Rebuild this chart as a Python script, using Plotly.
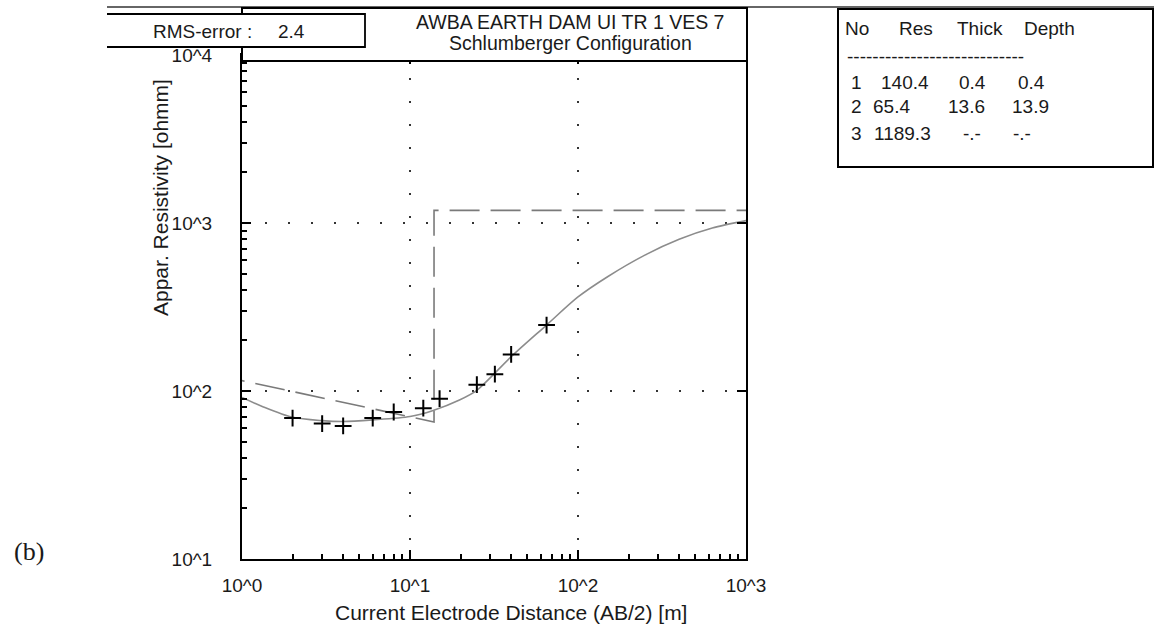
import plotly.graph_objects as go

# ---------------- data ----------------
ab2_obs = [2, 3, 4, 6, 8, 12, 15, 25, 32, 40, 65]
rho_obs = [69, 64, 62, 69, 75, 79, 90, 109, 126, 165, 247]

ab2_calc = [1, 1.33, 2, 3, 4, 6, 10, 13.6, 19.7, 25, 40, 65, 100, 150, 250, 400, 630, 1000]
rho_calc = [91.6, 80.7, 69.7, 66.6, 65.8, 67.3, 70.5, 76.4, 88.5, 101, 160, 247, 363, 479, 644, 800, 933, 1033]

model_depth = [0.4, 13.9, 13.9, 1000]
model_res = [140.4, 65.4, 1189.3, 1189.3]

layer_no = ["1", "2", "3"]
layer_res = ["140.4", "65.4", "1189.3"]
layer_thick = ["0.4", "13.6", "-.-"]
layer_depth = ["0.4", "13.9", "-.-"]
table_header = ["No", "Res", "Thick", "Depth"]

x_tickvals = [1, 10, 100, 1000]
x_ticktext = ["10^0", "10^1", "10^2", "10^3"]
y_tickvals = [10, 100, 1000, 10000]
y_ticktext = ["10^1", "10^2", "10^3", "10^4"]

title_lines = ["AWBA EARTH DAM UI TR 1 VES 7", "Schlumberger Configuration"]
rms_label = "RMS-error :"
rms_value = "2.4"

# ---------------- layout helpers ----------------
W, H = 1154, 634
L, R, T, B = 242, 746, 55, 559
PW, PH = R - L, B - T


def px(x):
    return (x - L) / PW


def py(y):
    return (B - y) / PH


FONT = "Liberation Sans, Arial, sans-serif"
TXT = "#1a1a1a"

fig = go.Figure()

fig.add_trace(go.Scatter(
    x=model_depth, y=model_res, mode="lines",
    line=dict(color="#7a7a7a", width=1.6, dash="30px,11px"),
    showlegend=False, hoverinfo="skip"))

fig.add_trace(go.Scatter(
    x=ab2_calc, y=rho_calc, mode="lines",
    line=dict(color="#8c8c8c", width=1.6, shape="spline", smoothing=0.8),
    showlegend=False, hoverinfo="skip"))

fig.add_trace(go.Scatter(
    x=ab2_obs, y=rho_obs, mode="markers",
    marker=dict(symbol="cross-thin", size=12, line=dict(color="black", width=2)),
    showlegend=False, hoverinfo="skip"))

# empty trace that holds the mirrored (top/right) axes
fig.add_trace(go.Scatter(x=[], y=[], xaxis="x2", yaxis="y2",
                         showlegend=False, hoverinfo="skip"))

axis_common = dict(
    type="log", showline=True, linecolor="black", linewidth=2,
    mirror=True, ticks="inside", ticklen=9, tickwidth=1.5, tickcolor="black",
    showgrid=True, gridcolor="#333", gridwidth=1.5, griddash="2px,21px",
    zeroline=False, tickfont=dict(family=FONT, size=19, color=TXT),
    minor=dict(ticks="inside", ticklen=5, tickwidth=2, tickcolor="black",
               dtick="D1", showgrid=False),
)
mirror_common = dict(
    type="log", showline=False, ticks="inside", ticklen=9, tickwidth=1.5,
    tickcolor="black", showgrid=False, zeroline=False, showticklabels=False,
)

fig.update_layout(
    xaxis=dict(range=[0, 3], tickmode="array", tickvals=x_tickvals,
               ticktext=x_ticktext, ticklabelstandoff=8, **axis_common),
    yaxis=dict(range=[1, 4], tickmode="array", tickvals=y_tickvals,
               ticktext=y_ticktext, ticklabelstandoff=24, **axis_common),
    xaxis2=dict(range=[0, 3], overlaying="x", side="top", anchor="y2",
                tickmode="array", tickvals=x_tickvals, **mirror_common),
    yaxis2=dict(range=[1, 4], overlaying="y", side="right", anchor="x2",
                tickmode="array", tickvals=y_tickvals, **mirror_common),
)

shapes = []
# thin top line across header
shapes.append(dict(type="line", xref="paper", yref="paper",
                   x0=px(107), x1=px(1154), y0=py(7), y1=py(7),
                   line=dict(color="#333", width=1.5)))
# title box
shapes.append(dict(type="rect", xref="paper", yref="paper",
                   x0=px(242), x1=px(747), y0=py(61), y1=py(8),
                   fillcolor="white", line=dict(color="black", width=2)))
# RMS box (white fill, open on the left)
shapes.append(dict(type="rect", xref="paper", yref="paper",
                   x0=px(100), x1=px(365), y0=py(47), y1=py(14),
                   fillcolor="white", line=dict(width=0)))
shapes.append(dict(type="path", xref="paper", yref="paper",
                   path=f"M {px(107)},{py(14)} L {px(365)},{py(14)} L {px(365)},{py(47)} L {px(107)},{py(47)}",
                   line=dict(color="black", width=1.8)))
# layer table box
shapes.append(dict(type="rect", xref="paper", yref="paper",
                   x0=px(838), x1=px(1153), y0=py(167), y1=py(9),
                   fillcolor="white", line=dict(color="black", width=2)))
fig.update_layout(shapes=shapes)

ann = []


def text(x, y, s, size=19, xanchor="center", family=FONT, angle=0):
    ann.append(dict(xref="paper", yref="paper", x=px(x), y=py(y), text=s,
                    showarrow=False, xanchor=xanchor, yanchor="middle",
                    textangle=angle, font=dict(family=family, size=size, color=TXT)))


text(570, 22, title_lines[0], size=19.5)
text(570, 43, title_lines[1], size=19.5)
text(151, 32, rms_label, xanchor="left")
text(276, 32, rms_value, xanchor="left")

# table
hdr_x = [843, 897, 955, 1022]
for s, x in zip(table_header, hdr_x):
    text(x, 29, s, xanchor="left")
text(845, 56, "-" * 28, xanchor="left")
row_y = [82, 107, 133]
col_x = [
    [849, 879, 957, 1016],
    [849, 871, 946, 1010],
    [849, 872, 961, 1011],
]
for i in range(3):
    vals = [layer_no[i], layer_res[i], layer_thick[i], layer_depth[i]]
    for s, x in zip(vals, col_x[i]):
        text(x, row_y[i], s, xanchor="left")

text(511, 612, "Current Electrode Distance (AB/2) [m]", size=21)
text(160, 198, "Appar. Resistivity [ohmm]", size=21, angle=-90)
text(29, 551, "(b)", size=26, family="Liberation Serif, Times New Roman, serif")

fig.update_layout(
    annotations=ann,
    width=W, height=H, autosize=False,
    margin=dict(l=L, r=W - R, t=T, b=H - B, pad=0),
    paper_bgcolor="white", plot_bgcolor="white",
    showlegend=False,
)

fig.write_html("out.html")
